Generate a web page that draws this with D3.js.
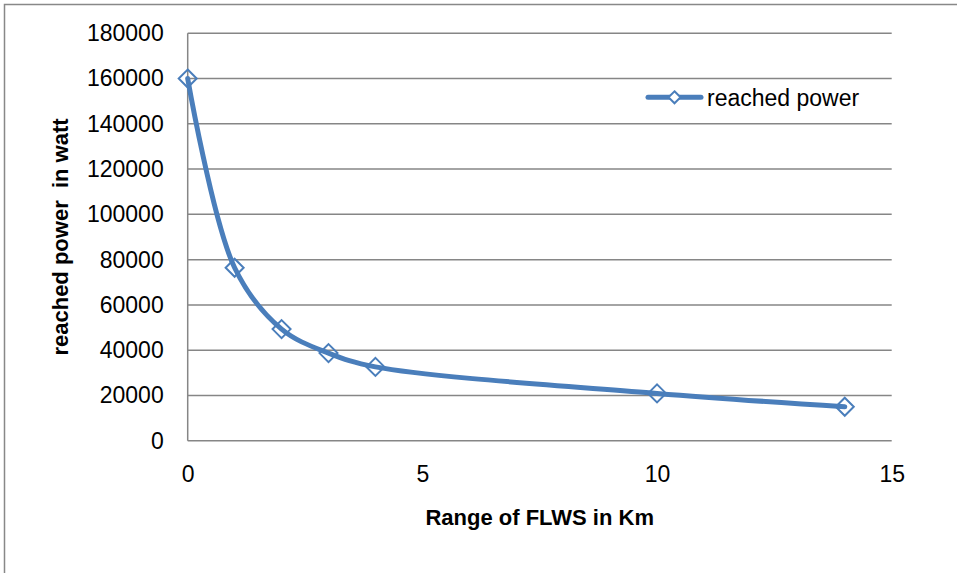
<!DOCTYPE html>
<html><head><meta charset="utf-8">
<script src="https://cdn.jsdelivr.net/npm/d3@7"></script>
<style>body{margin:0;background:#fff}svg{display:block}text{white-space:pre}</style>
</head><body>
<script>
const rangeKm = [0, 1, 2, 3, 4, 10, 14];
const reachedPower = [160000, 76400, 49300, 38700, 32600, 20900, 15000];
const yTicks = [0, 20000, 40000, 60000, 80000, 100000, 120000, 140000, 160000, 180000];
const xTicks = [0, 5, 10, 15];
const seriesName = "reached power";
const xTitle = "Range of FLWS in Km";
const yTitle = "reached power  in watt";

const W = 957, H = 573;
const L = 187.7, R = 891.7, T = 33.3, B = 440.7;
const blue = "#4a7ebb", grid = "#868686";
const font = "'Liberation Sans', Arial, sans-serif";
const fs = 23;

const svg = d3.select("body").append("svg").attr("width", W).attr("height", H);
svg.append("path").attr("d", `M4.5,${H} V4.5 H${W}`).attr("fill", "none").attr("stroke", "#888").attr("stroke-width", 1.5);

const x = d3.scaleLinear().domain([0, 15]).range([L, R]);
const y = d3.scaleLinear().domain([0, 180000]).range([B, T]);

// gridlines
svg.append("g").selectAll("line").data(yTicks).join("line")
  .attr("x1", L).attr("x2", R).attr("y1", d => y(d)).attr("y2", d => y(d))
  .attr("stroke", grid).attr("stroke-width", 1.5);
svg.append("line").attr("x1", L).attr("x2", L).attr("y1", T).attr("y2", B).attr("stroke", grid).attr("stroke-width", 1.5);

// tick labels
const yAxis = d3.axisLeft(y).tickValues(yTicks).tickSize(0).tickPadding(24).tickFormat(d3.format("d"));
const gy = svg.append("g").attr("transform", `translate(${L},0)`).call(yAxis);
gy.select(".domain").remove();
gy.selectAll("text").attr("font-family", font).attr("font-size", fs).attr("fill", "#000");
const xAxis = d3.axisBottom(x).tickValues(xTicks).tickSize(0).tickPadding(25).tickFormat(d3.format("d"));
const gx = svg.append("g").attr("transform", `translate(0,${B})`).call(xAxis);
gx.select(".domain").remove();
gx.selectAll("text").attr("font-family", font).attr("font-size", fs).attr("fill", "#000");

// titles
svg.append("text").attr("x", (L + R) / 2).attr("y", 525).attr("text-anchor", "middle")
  .attr("font-family", font).attr("font-weight", "bold").attr("font-size", 22).text(xTitle);
svg.append("text").attr("transform", `translate(68,${(T + B) / 2}) rotate(-90)`).attr("text-anchor", "middle")
  .attr("font-family", font).attr("font-weight", "bold").attr("font-size", 22).text(yTitle);

// series
const data = rangeKm.map((k, i) => ({k, v: reachedPower[i]}));
const line = d3.line().x(d => x(d.k)).y(d => y(d.v)).curve(d3.curveCatmullRom.alpha(0.5));
svg.append("path").datum(data).attr("d", line).attr("fill", "none").attr("stroke", blue)
  .attr("stroke-width", 5).attr("stroke-linecap", "round").attr("stroke-linejoin", "round");
const diamond = s => `M0,${-s} L${s},0 L0,${s} L${-s},0 Z`;
svg.append("g").selectAll("path").data(data).join("path")
  .attr("transform", d => `translate(${x(d.k)},${y(d.v)})`)
  .attr("d", diamond(9)).attr("fill", "none").attr("stroke", blue).attr("stroke-width", 2);

// legend
svg.append("line").attr("x1", 648).attr("x2", 701).attr("y1", 97.3).attr("y2", 97.3)
  .attr("stroke", blue).attr("stroke-width", 5).attr("stroke-linecap", "round");
svg.append("path").attr("transform", "translate(674.5,97.3)").attr("d", diamond(6))
  .attr("fill", "#fff").attr("stroke", blue).attr("stroke-width", 2);
svg.append("text").attr("x", 707).attr("y", 105.5).attr("font-family", font).attr("font-size", fs).text(seriesName);
</script>
</body></html>
